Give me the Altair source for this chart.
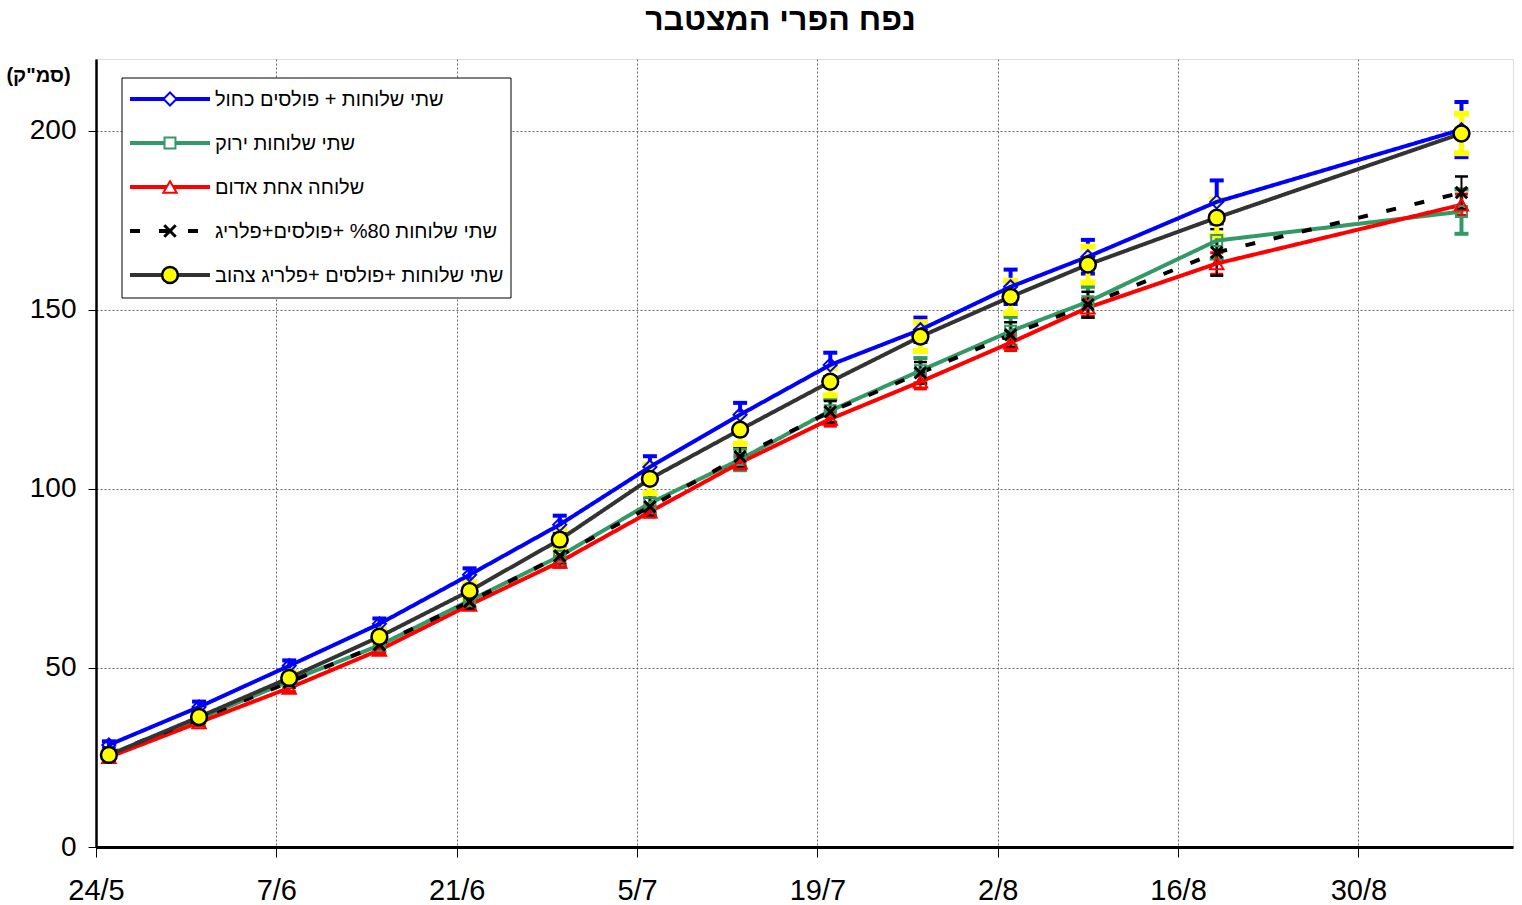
import altair as alt
import pandas as pd

# ---------------- data ----------------
dates = ["2008-05-25", "2008-06-01", "2008-06-08", "2008-06-15", "2008-06-22", "2008-06-29",
         "2008-07-06", "2008-07-13", "2008-07-20", "2008-07-27", "2008-08-03", "2008-08-09",
         "2008-08-19", "2008-09-07"]

names = [
    "שתי שלוחות + פולסים כחול",
    "שתי שלוחות ירוק",
    "שלוחה אחת אדום",
    "שתי שלוחות %80 +פולסים+פלריג",
    "שתי שלוחות +פולסים +פלריג צהוב",
]

blue = [28.5, 39.1, 50.6, 62.3, 76.0, 90.0, 106.1, 120.7, 134.6, 144.4, 156.4, 164.8, 180.1, 200.3]
blue_err = [1.0, 1.5, 1.5, 1.5, 1.8, 2.5, 3.0, 3.3, 3.4, 3.4, 4.8, 4.7, 6.0, 7.7]
green = [25.5, 35.8, 46.3, 56.3, 68.8, 81.2, 96.0, 108.2, 121.8, 133.0, 144.0, 152.2, 169.3, 177.4]
green_err = [1.0, 1.2, 1.5, 1.8, 2.0, 2.5, 3.0, 3.0, 3.3, 3.5, 4.0, 4.2, 5.0, 6.2]
red = [25.1, 34.8, 44.4, 55.0, 67.6, 79.6, 93.6, 107.3, 119.5, 129.9, 140.8, 150.6, 162.9, 179.3]
red_err = [0.8, 1.0, 1.0, 1.0, 1.2, 1.5, 1.5, 1.8, 2.0, 2.0, 2.2, 2.5, 3.0, 3.0]
black = [26.0, 35.8, 46.0, 56.5, 68.5, 81.3, 95.0, 109.0, 121.5, 132.4, 143.0, 151.4, 166.0, 182.7]
black_err = [1.0, 1.0, 1.5, 1.5, 2.0, 2.0, 2.5, 2.8, 3.0, 3.0, 3.5, 3.6, 6.5, 4.5]
gray = [25.7, 36.3, 47.2, 58.7, 71.5, 85.8, 102.8, 116.5, 129.9, 142.5, 153.6, 162.6, 175.7, 199.2]
gray_err = [1.0, 1.5, 1.8, 2.0, 2.5, 3.0, 4.0, 4.0, 3.8, 4.0, 4.5, 5.0, 5.0, 5.5]

x_tick_dates = [(2008, 5, 24), (2008, 6, 7), (2008, 6, 21), (2008, 7, 5), (2008, 7, 19),
                (2008, 8, 2), (2008, 8, 16), (2008, 8, 30)]
x_domain = ["2008-05-24T00:00:00", "2008-09-11T00:00:00"]
y_ticks = [0, 50, 100, 150, 200]
y_domain = [0, 220]

title_text = "נפח הפרי המצטבר"
y_title = '(סמ"ק)'

# ---------------- styles ----------------
XMARK = "M-1,-1L1,1M1,-1L-1,1"
styles = [
    dict(line="#0000FF", dash=[1, 0], shape="diamond", size=170, fill="transparent", stroke="#0000FF", sw=2,
         err="#0000FF", errw=4, capw=14, capt=4),
    dict(line="#339966", dash=[1, 0], shape="square", size=120, fill="transparent", stroke="#339966", sw=2,
         err="#339966", errw=4, capw=14, capt=4),
    dict(line="#FF0000", dash=[1, 0], shape="triangle-up", size=180, fill="transparent", stroke="#FF0000", sw=2,
         err="#FF0000", errw=2.5, capw=13, capt=3),
    dict(line="#000000", dash=[10, 19], shape=XMARK, size=130, fill="transparent", stroke="#000000", sw=3,
         err="#000000", errw=2, capw=13, capt=2.5),
    dict(line="#333333", dash=[1, 0], shape="circle", size=250, fill="#FFFF00", stroke="#000000", sw=2.5,
         err="#FFFF00", errw=5, capw=15, capt=6),
]
values = [blue, green, red, black, gray]
errors = [blue_err, green_err, red_err, black_err, gray_err]

FONT = "Liberation Sans"

x_axis = alt.Axis(
    values=[alt.DateTime(year=y, month=m, date=d) for (y, m, d) in x_tick_dates],
    format="%-d/%-m", title=None, labelFontSize=29, labelPadding=19, tickSize=10, labelFlush=False,
    labelFont=FONT, labelColor="black", tickColor="black", domainColor="black", domainWidth=3,
    grid=True, gridColor="#666666", gridDash=[2, 2], gridWidth=1, labelAngle=0,
)
y_axis = alt.Axis(
    values=y_ticks, title=y_title, titleAngle=0, titleX=-58, titleY=16, titleAlign="center",
    titleBaseline="middle", titleFontSize=20, titleFont=FONT, titleFontWeight="bold", titleColor="black",
    labelFontSize=28, labelPadding=12, tickSize=8, labelFont=FONT, labelColor="black",
    tickColor="black", domainColor="black", domainWidth=2.5, labelFlush=False,
    grid=True, gridColor="#666666", gridDash=[2, 2], gridWidth=1,
)
x_scale = alt.Scale(domain=x_domain, nice=False)
y_scale = alt.Scale(domain=y_domain, nice=False, zero=True)


def X():
    return alt.X("date:T", scale=x_scale, axis=x_axis)


def Yf(field):
    return alt.Y(f"{field}:Q", scale=y_scale, axis=y_axis)


err_layers, line_layers, point_layers, legend_layers = [], [], [], []

for i, (name, vals, errs, st) in enumerate(zip(names, values, errors, styles)):
    df = pd.DataFrame({"date": [d + "T00:00:00" for d in dates], "value": vals, "err": errs})
    base = alt.Chart(df).transform_calculate(lo="datum.value - datum.err", hi="datum.value + datum.err")
    err_layers.append(
        base.mark_rule(color=st["err"], strokeWidth=st["errw"]).encode(x=X(), y=Yf("lo"), y2="hi:Q")
    )
    err_layers.append(
        base.mark_tick(color=st["err"], orient="horizontal", size=st["capw"], thickness=st["capt"], opacity=1)
        .encode(x=X(), y=Yf("lo"))
    )
    err_layers.append(
        base.mark_tick(color=st["err"], orient="horizontal", size=st["capw"], thickness=st["capt"], opacity=1)
        .encode(x=X(), y=Yf("hi"))
    )
    line_layers.append(
        alt.Chart(df).mark_line(color=st["line"], strokeWidth=4, strokeDash=st["dash"])
        .encode(x=X(), y=Yf("value"))
    )
    point_layers.append(
        alt.Chart(df).mark_point(shape=st["shape"], size=st["size"], filled=False, fill=st["fill"],
                                 stroke=st["stroke"], strokeWidth=st["sw"], opacity=1)
        .encode(x=X(), y=Yf("value"))
    )

    # legend entry
    one = alt.Data(values=[{"k": 1}])
    ly = 40 + 44 * i
    legend_layers.append(
        alt.Chart(one).mark_rule(color=st["line"], strokeWidth=4, strokeDash=st["dash"])
        .encode(x=alt.value(34), x2=alt.value(114), y=alt.value(ly))
    )
    legend_layers.append(
        alt.Chart(one).mark_point(shape=st["shape"], size=st["size"], filled=False,
                                  fill=("white" if st["fill"] == "transparent" else st["fill"]),
                                  stroke=st["stroke"], strokeWidth=st["sw"], opacity=1)
        .encode(x=alt.value(74), y=alt.value(ly))
    )
    legend_layers.append(
        alt.Chart(one).mark_text(align="left", baseline="middle", font=FONT, fontSize=20, color="black")
        .encode(x=alt.value(119), y=alt.value(ly + 1), text=alt.value(name))
    )

legend_box = alt.Chart(alt.Data(values=[{"k": 1}])).mark_rect(
    fill="white", stroke="black", strokeWidth=1
).encode(x=alt.value(26), x2=alt.value(415), y=alt.value(19), y2=alt.value(239))

chart = alt.layer(
    *err_layers, *line_layers, *point_layers, legend_box, *legend_layers
).properties(
    width=1417, height=788,
    title=alt.TitleParams(title_text, fontSize=32, fontWeight="bold", font=FONT, color="black",
                          anchor="middle", frame="group", dx=-24, offset=-3, baseline="alphabetic"),
    autosize=alt.AutoSizeParams(type="none"),
    padding={"left": 96, "top": 59, "right": 9, "bottom": 58},
).configure_view(stroke="black", strokeWidth=2.5).configure(background="white")

chart.save("out.html", embed_options={"renderer": "svg", "actions": False})
